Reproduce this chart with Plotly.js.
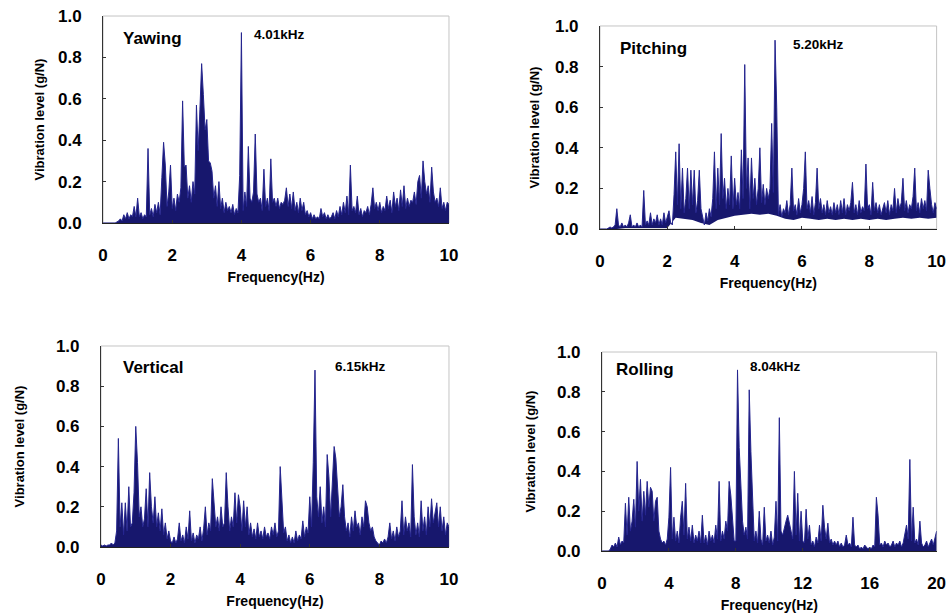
<!DOCTYPE html>
<html><head><meta charset="utf-8">
<script src="https://cdn.plot.ly/plotly-3.0.1.min.js"></script>
<style>html,body{margin:0;padding:0;background:#fff}#chart{width:948px;height:614px}</style>
</head><body><div id="chart"></div>
<script>
// ---- data ----
const panelNames = ['Yawing', 'Pitching', 'Vertical', 'Rolling'];
const peakLabels = ['4.01kHz', '5.20kHz', '6.15kHz', '8.04kHz'];
const freqStep = [0.05, 0.05, 0.05, 0.1];      // spectral resolution of each series
const xMax = [10, 10, 10, 20];
const xTickStep = [2, 2, 2, 4];
const yTicks = [0, 0.2, 0.4, 0.6, 0.8, 1.0];
const xTitle = 'Frequency(Hz)';
const yTitle = 'Vibration level (g/N)';

const yawing = [
  0,0,0,0,0,0,0,0,0.005,0.01, 0.02,0.01,0.04,0.02,0.05,0.02,0.04,0.03,0.08,0.03,
  0.12,0.03,0.05,0.02,0.04,0.03,0.36,0.04,0.07,0.03, 0.09,0.05,0.1,0.04,0.22,0.39,0.28,0.08,0.15,0.28,
  0.07,0.12,0.06,0.14,0.1,0.17,0.59,0.27,0.28,0.12, 0.18,0.1,0.2,0.14,0.57,0.35,0.55,0.77,0.62,0.45,
  0.5,0.3,0.29,0.25,0.12,0.18,0.08,0.2,0.07,0.12, 0.05,0.1,0.06,0.08,0.05,0.09,0.04,0.07,0.05,0.23,
  0.92,0.06,0.15,0.08,0.37,0.12,0.1,0.15,0.43,0.14, 0.1,0.12,0.06,0.26,0.08,0.12,0.06,0.31,0.1,0.12,
  0.08,0.12,0.07,0.1,0.09,0.11,0.17,0.08,0.14,0.07, 0.15,0.06,0.1,0.05,0.12,0.06,0.1,0.04,0.06,0.03,
  0.05,0.02,0.04,0.02,0.03,0.02,0.07,0.03,0.05,0.02, 0.04,0.02,0.03,0.05,0.02,0.06,0.03,0.08,0.04,0.1,
  0.05,0.13,0.04,0.28,0.06,0.08,0.05,0.13,0.04,0.07, 0.03,0.06,0.05,0.08,0.04,0.09,0.17,0.07,0.1,0.06,
  0.1,0.05,0.08,0.06,0.13,0.07,0.11,0.05,0.15,0.08, 0.12,0.06,0.16,0.08,0.18,0.07,0.12,0.08,0.11,0.1,
  0.15,0.09,0.2,0.23,0.12,0.3,0.2,0.14,0.18,0.1, 0.27,0.15,0.1,0.12,0.08,0.17,0.07,0.1,0.06,0.1,
  0.09
];
const pitching = [
  0,0,0,0,0,0.005,0.01,0.005,0.01,0.02, 0.1,0.02,0.01,0.03,0.01,0.02,0.01,0.03,0.07,0.01,
  0.02,0.01,0.03,0.01,0.02,0.01,0.19,0.02,0.04,0.02, 0.08,0.02,0.05,0.03,0.07,0.02,0.05,0.02,0.08,0.03,
  0.06,0.09,0.03,0.02,0.17,0.38,0.12,0.42,0.1,0.3, 0.08,0.15,0.3,0.1,0.29,0.12,0.29,0.08,0.14,0.29,
  0.1,0.05,0.02,0.08,0.04,0.1,0.06,0.15,0.38,0.1, 0.3,0.12,0.47,0.15,0.25,0.1,0.2,0.12,0.36,0.1,
  0.25,0.12,0.18,0.1,0.39,0.15,0.81,0.2,0.35,0.1, 0.35,0.15,0.25,0.12,0.2,0.4,0.13,0.22,0.12,0.2,
  0.15,0.2,0.52,0.18,0.93,0.6,0.07,0.12,0.06,0.1, 0.08,0.14,0.07,0.12,0.3,0.09,0.12,0.07,0.15,0.08,
  0.12,0.2,0.38,0.1,0.14,0.08,0.16,0.07,0.13,0.3, 0.1,0.15,0.08,0.12,0.07,0.14,0.08,0.11,0.07,0.13,
  0.08,0.12,0.07,0.14,0.08,0.15,0.07,0.12,0.09,0.13, 0.23,0.08,0.12,0.07,0.14,0.08,0.11,0.09,0.32,0.1,
  0.12,0.07,0.23,0.09,0.13,0.08,0.12,0.07,0.1,0.13, 0.08,0.14,0.07,0.12,0.09,0.2,0.08,0.15,0.1,0.13,
  0.25,0.09,0.14,0.08,0.12,0.1,0.16,0.3,0.09,0.13, 0.08,0.15,0.1,0.14,0.09,0.29,0.2,0.12,0.08,0.13,
  0.1
];
// lower edge of the dense pitching band, sampled every 0.25 Hz
const pitchingFloorStep = 0.25;
const pitchingFloor = [
  0,0,0,0.005,0.005,0.005,0.005,0.005,0.005,0.055,
  0.05,0.045,0.03,0.02,0.045,0.055,0.065,0.07,0.075,0.07,
  0.075,0.065,0.05,0.045,0.055,0.05,0.045,0.05,0.045,0.05,
  0.045,0.05,0.045,0.05,0.045,0.05,0.055,0.05,0.055,0.05,
  0.055
];
const vertical = [
  0.01,0.005,0.01,0.005,0.01,0.01,0.02,0.01,0.02,0.08, 0.54,0.1,0.22,0.06,0.22,0.08,0.3,0.1,0.12,0.27,
  0.6,0.42,0.15,0.2,0.1,0.14,0.29,0.1,0.37,0.2, 0.12,0.25,0.1,0.17,0.08,0.19,0.06,0.12,0.04,0.08,
  0.03,0.02,0.05,0.02,0.04,0.12,0.03,0.06,0.02,0.1, 0.04,0.18,0.03,0.07,0.02,0.06,0.04,0.1,0.03,0.09,
  0.2,0.06,0.12,0.08,0.34,0.24,0.1,0.15,0.08,0.2, 0.1,0.12,0.37,0.2,0.08,0.15,0.1,0.27,0.12,0.26,
  0.2,0.08,0.23,0.1,0.2,0.06,0.12,0.05,0.09,0.04, 0.12,0.05,0.08,0.04,0.1,0.05,0.07,0.04,0.1,0.06,
  0.12,0.05,0.08,0.4,0.24,0.07,0.1,0.03,0.06,0.02, 0.05,0.02,0.08,0.03,0.06,0.04,0.13,0.05,0.1,0.07,
  0.25,0.1,0.42,0.88,0.25,0.15,0.3,0.12,0.2,0.1, 0.46,0.35,0.15,0.33,0.5,0.44,0.3,0.15,0.2,0.31,
  0.15,0.08,0.12,0.05,0.15,0.08,0.18,0.1,0.12,0.06, 0.15,0.1,0.23,0.2,0.12,0.08,0.1,0.05,0.03,0.02,
  0.01,0.03,0.02,0.04,0.02,0.05,0.12,0.04,0.08,0.03, 0.1,0.05,0.08,0.23,0.06,0.15,0.08,0.12,0.05,0.41,
  0.15,0.06,0.12,0.05,0.23,0.08,0.15,0.06,0.2,0.1, 0.24,0.12,0.18,0.22,0.1,0.2,0.08,0.15,0.06,0.12,
  0.1
];
const rolling = [
  0,0,0,0,0,0.01,0.03,0.02,0.04,0.02, 0.07,0.03,0.05,0.04,0.24,0.08,0.27,0.1,0.15,0.26,
  0.12,0.45,0.2,0.36,0.15,0.3,0.18,0.35,0.22,0.32, 0.3,0.15,0.25,0.27,0.1,0.06,0.04,0.05,0.03,0.06,
  0.17,0.42,0.06,0.17,0.05,0.1,0.04,0.17,0.25,0.08, 0.34,0.06,0.12,0.05,0.13,0.04,0.08,0.05,0.1,0.04,
  0.18,0.04,0.08,0.03,0.1,0.05,0.08,0.04,0.13,0.06, 0.35,0.05,0.1,0.06,0.15,0.1,0.35,0.28,0.15,0.05,
  0.05,0.91,0.52,0.3,0.15,0.08,0.12,0.06,0.81,0.5, 0.27,0.05,0.1,0.04,0.2,0.06,0.03,0.22,0.05,0.08,
  0.04,0.1,0.03,0.07,0.25,0.05,0.67,0.1,0.08,0.12, 0.15,0.18,0.13,0.1,0.06,0.4,0.08,0.29,0.05,0.2,
  0.05,0.04,0.21,0.06,0.13,0.03,0.05,0.02,0.07,0.04, 0.13,0.05,0.23,0.12,0.06,0.14,0.04,0.06,0.03,0.05,
  0.03,0.05,0.02,0.04,0.02,0.03,0.08,0.03,0.04,0.02, 0.17,0.03,0.02,0.03,0.01,0.02,0.01,0.03,0.02,0.01,
  0.02,0.01,0.03,0.02,0.27,0.18,0.03,0.04,0.02,0.05, 0.03,0.04,0.02,0.03,0.05,0.02,0.04,0.03,0.05,0.02,
  0.04,0.08,0.13,0.06,0.46,0.05,0.22,0.04,0.06,0.03, 0.15,0.04,0.02,0.03,0.05,0.02,0.04,0.06,0.03,0.07,
  0.1
];
const series = [yawing, pitching, vertical, rolling];

// ---- layout geometry (paper fractions) ----
const xDomains = [[0.1087, 0.4736], [0.6329, 0.9880], [0.1065, 0.4736], [0.6350, 0.9880]];
const yDomains = [[0.6368, 0.9739], [0.6270, 0.9577], [0.1091, 0.4365], [0.1026, 0.4267]];
const yTitleStandoff = [10, 12, 28, 18];
const namePos = [[0.1276, 0.9381], [0.6519, 0.9218], [0.1276, 0.4007], [0.6477, 0.3974]];
const peakPos = [[0.2658, 0.9430], [0.8344, 0.9283], [0.3513, 0.4023], [0.7890, 0.4039]];

const lineColor = '#25258f';
const fillColor = '#17176d';
const fontFam = 'Liberation Sans, Arial, sans-serif';

const axisIds = i => (i === 0 ? '' : String(i + 1));
const traces = [];
series.forEach((vals, i) => {
  const sx = axisIds(i);
  if (i === 1) {
    traces.push({
      type: 'scatter', mode: 'lines', x0: 0, dx: pitchingFloorStep, y: pitchingFloor,
      xaxis: 'x' + sx, yaxis: 'y' + sx,
      line: {color: fillColor, width: 0}, hoverinfo: 'skip', showlegend: false
    });
  }
  traces.push({
    type: 'scatter', mode: 'lines',
    x0: 0, dx: freqStep[i], y: vals,
    xaxis: 'x' + sx, yaxis: 'y' + sx,
    line: {color: lineColor, width: 1},
    fill: i === 1 ? 'tonexty' : 'tozeroy',
    fillcolor: fillColor,
    hoverinfo: 'x+y', showlegend: false
  });
});

const layout = {
  width: 948, height: 614,
  margin: {l: 0, r: 0, t: 0, b: 0},
  paper_bgcolor: '#ffffff', plot_bgcolor: '#ffffff',
  font: {family: fontFam, color: '#000'},
  showlegend: false,
  annotations: [], shapes: []
};

for (let i = 0; i < 4; i++) {
  const sx = axisIds(i);
  const xticks = [];
  for (let t = 0; t <= xMax[i]; t += xTickStep[i]) xticks.push(t);
  layout['xaxis' + sx] = {
    domain: xDomains[i], anchor: 'y' + sx, range: [0, xMax[i]],
    tickvals: xticks, ticktext: xticks.map(String),
    ticks: 'inside', ticklen: 3, tickcolor: '#333',
    showline: true, linecolor: '#222', linewidth: 1,
    showgrid: false, zeroline: false,
    tickfont: {family: fontFam, size: 17, weight: 'bold', color: '#000'},
    ticklabelstandoff: 17,
    title: {text: xTitle, standoff: 7, font: {family: fontFam, size: 14, weight: 'bold', color: '#000'}},
    automargin: false
  };
  layout['yaxis' + sx] = {
    domain: yDomains[i], anchor: 'x' + sx, range: [0, 1],
    tickvals: yTicks, ticktext: yTicks.map(v => v.toFixed(1)),
    ticks: 'inside', ticklen: 3, tickcolor: '#333',
    showline: true, linecolor: '#333', linewidth: 1,
    showgrid: false, zeroline: false,
    tickfont: {family: fontFam, size: 17, weight: 'bold', color: '#000'},
    ticklabelstandoff: 17,
    title: {text: yTitle, standoff: yTitleStandoff[i], font: {family: fontFam, size: 13, weight: 'bold', color: '#000'}},
    automargin: false
  };
  layout.shapes.push({
    type: 'rect', xref: 'x' + sx + ' domain', yref: 'y' + sx + ' domain',
    x0: 0, x1: 1, y0: 0, y1: 1, line: {color: '#c4c4c4', width: 1}, layer: 'below'
  });
  layout.annotations.push({
    xref: 'paper', yref: 'paper', x: namePos[i][0], y: namePos[i][1],
    xanchor: 'left', yanchor: 'middle', showarrow: false, text: panelNames[i],
    font: {family: fontFam, size: 17, weight: 'bold', color: '#000'}
  });
  layout.annotations.push({
    xref: 'paper', yref: 'paper', x: peakPos[i][0], y: peakPos[i][1],
    xanchor: 'left', yanchor: 'middle', showarrow: false, text: peakLabels[i],
    font: {family: fontFam, size: 13.5, weight: 'bold', color: '#000'}
  });
}

Plotly.newPlot('chart', traces, layout, {staticPlot: true, displayModeBar: false});
</script>
</body></html>
